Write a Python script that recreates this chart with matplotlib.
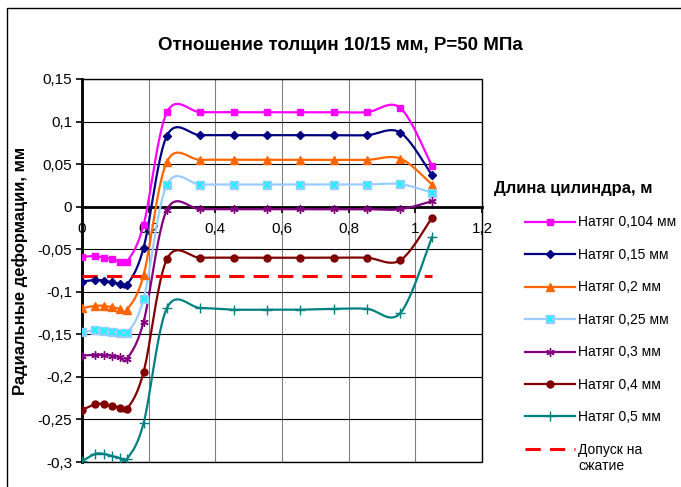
import numpy as np
import matplotlib.pyplot as plt
from matplotlib.patches import Rectangle
from matplotlib.ticker import FuncFormatter
from matplotlib.legend_handler import HandlerTuple

plt.rcParams['font.family'] = ['Liberation Sans', 'DejaVu Sans']

# Длина цилиндра, м
x_len = [0, 0.04, 0.065, 0.09, 0.115, 0.135, 0.185, 0.255, 0.355, 0.455,
         0.555, 0.655, 0.755, 0.855, 0.955, 1.05]

# Радиальные деформации, мм
def_0104 = [-0.059, -0.058, -0.060, -0.061, -0.065, -0.065, -0.021, 0.111, 0.111, 0.111,
            0.111, 0.111, 0.111, 0.111, 0.116, 0.048]
def_015 = [-0.088, -0.086, -0.087, -0.089, -0.091, -0.092, -0.048, 0.0835, 0.084, 0.084,
           0.084, 0.084, 0.084, 0.084, 0.087, 0.037]
def_02 = [-0.119, -0.1165, -0.1165, -0.118, -0.120, -0.121, -0.080, 0.053, 0.055, 0.055,
          0.055, 0.055, 0.055, 0.055, 0.0565, 0.026]
def_025 = [-0.1475, -0.145, -0.146, -0.147, -0.149, -0.149, -0.108, 0.026, 0.026, 0.026,
           0.026, 0.026, 0.026, 0.026, 0.0265, 0.0165]
def_03 = [-0.175, -0.174, -0.1745, -0.175, -0.177, -0.179, -0.135, -0.0035, -0.003, -0.003,
          -0.003, -0.003, -0.003, -0.003, -0.003, 0.0065]
def_04 = [-0.239, -0.232, -0.232, -0.234, -0.236, -0.238, -0.194, -0.0615, -0.060, -0.060,
          -0.060, -0.060, -0.060, -0.060, -0.063, -0.013]
def_05 = [-0.299, -0.2905, -0.2905, -0.293, -0.2955, -0.2965, -0.254, -0.119, -0.119, -0.121,
          -0.121, -0.121, -0.120, -0.120, -0.125, -0.036]
tolerance = -0.082

labels = ["Натяг 0,104 мм", "Натяг 0,15 мм", "Натяг 0,2 мм", "Натяг 0,25 мм",
          "Натяг 0,3 мм", "Натяг 0,4 мм", "Натяг 0,5 мм"]

fig = plt.figure(figsize=(6.81, 4.87), dpi=100)
ax = fig.add_axes([82 / 681, 1 - 462 / 487, 400 / 681, 383 / 487])
ax.set_xlim(0, 1.2)
ax.set_ylim(-0.3, 0.15)


def smooth(x, y, n=24):
    # Excel-like smoothed line: cubic Bezier through points (Catmull-Rom), in pixel space
    pts = ax.transData.transform(np.column_stack([x, y]))
    out = [pts[0]]
    t = np.linspace(0, 1, n)[1:, None]
    for i in range(len(pts) - 1):
        p0 = pts[i - 1] if i > 0 else pts[i]
        p1, p2 = pts[i], pts[i + 1]
        p3 = pts[i + 2] if i + 2 < len(pts) else pts[i + 1]
        c1 = p1 + (p2 - p0) / 6
        c2 = p2 - (p3 - p1) / 6
        seg = (1 - t) ** 3 * p1 + 3 * (1 - t) ** 2 * t * c1 + 3 * (1 - t) * t ** 2 * c2 + t ** 3 * p2
        out.extend(seg)
    res = ax.transData.inverted().transform(np.array(out))
    return res[:, 0], res[:, 1]


series = [
    (def_0104, "#FF00FF", "s", 5),
    (def_015, "#000080", "D", 4.5),
    (def_02, "#FF6600", "^", 5.5),
    (def_025, "#99CCFF", "s", 6),
    (def_03, "#800080", (6, 2, 0), 6),
    (def_04, "#800000", "o", 5),
    (def_05, "#008080", "+", 7),
]

handles = []
for (vals, col, mk, ms), lab in zip(series, labels):
    sx, sy = smooth(x_len, vals)
    ax.plot(sx, sy, color=col, lw=1.6, zorder=3)
    ax.plot(x_len, vals, ls="none", marker=mk, ms=ms, color=col, mew=1.0, zorder=4)
    h = ax.plot([], [], color=col, lw=1.6, marker=mk, ms=ms, mew=1.0)[0]
    if lab == "Натяг 0,25 мм":
        ax.plot(x_len, vals, ls="none", marker="x", ms=5, color="#00FFFF", mew=1.2, zorder=5)
        hx = ax.plot([], [], ls="none", marker="x", ms=5, color="#00FFFF", mew=1.2)[0]
        h = (h, hx)
    handles.append(h)

hd = ax.plot(x_len, [tolerance] * len(x_len), color="#FF0000", lw=2.2, dashes=(5, 3), zorder=3)[0]
handles.append(hd)


def comma(v, pos):
    v = round(v, 3)
    if v == 0:
        return "0"
    return ("%g" % v).replace(".", ",")


# grid and axes in Excel style
ax.set_xticks(np.arange(0, 1.21, 0.2))
ax.set_yticks(np.arange(-0.3, 0.151, 0.05))
ax.yaxis.grid(True, color="black", lw=0.8)
ax.xaxis.grid(True, color="#808080", lw=0.8)
ax.set_axisbelow(True)
ax.xaxis.set_major_formatter(FuncFormatter(comma))
ax.yaxis.set_major_formatter(FuncFormatter(comma))
for s in ["top", "right"]:
    ax.spines[s].set_visible(False)
ax.spines["left"].set_linewidth(2)
ax.spines["bottom"].set_position(("data", 0))
ax.spines["bottom"].set_linewidth(2)
ax.spines["bottom"].set_zorder(2.5)
ax.add_patch(Rectangle((0, 0), 1, 1, transform=ax.transAxes, fill=False,
                       ec="black", lw=1, clip_on=False, zorder=2))
ax.tick_params(axis="y", direction="out", length=4, width=1.2, labelsize=11, pad=3)
ax.tick_params(axis="x", direction="out", length=4, width=1.2, labelsize=11, pad=7)

fig.text(0.5, 1 - 45 / 487, "Отношение толщин 10/15 мм, P=50 МПа",
         ha="center", va="center", fontsize=13.5, fontweight="bold")
fig.text(20 / 681, 1 - 271 / 487, "Радиальные деформации, мм", rotation=90,
         ha="center", va="center", fontsize=12, fontweight="bold")
fig.text(494 / 681, 1 - 188 / 487, "Длина цилиндра, м",
         ha="left", va="center", fontsize=12, fontweight="bold")

leg = fig.legend(handles, labels + ["Допуск на"], loc="upper left",
                 bbox_to_anchor=(512 / 681, 1 - 203 / 487), frameon=False, fontsize=10,
                 handlelength=3.6, handletextpad=0.25, labelspacing=1.33,
                 handler_map={tuple: HandlerTuple(ndivide=1, pad=0)})

# second line of the last legend label, placed under the first one
fig.canvas.draw()
bb = leg.get_texts()[-1].get_window_extent()
fig.text(bb.x0 / 681, (bb.y0 - 2) / 487, "сжатие", ha="left", va="top", fontsize=10)

# outer chart border
fig.patches.append(Rectangle((6.5 / 681, -0.1), 1.2, 1 - 8 / 487 + 0.1,
                             transform=fig.transFigure, fill=False, ec="black", lw=1))

fig.savefig("out.png", dpi=100)
